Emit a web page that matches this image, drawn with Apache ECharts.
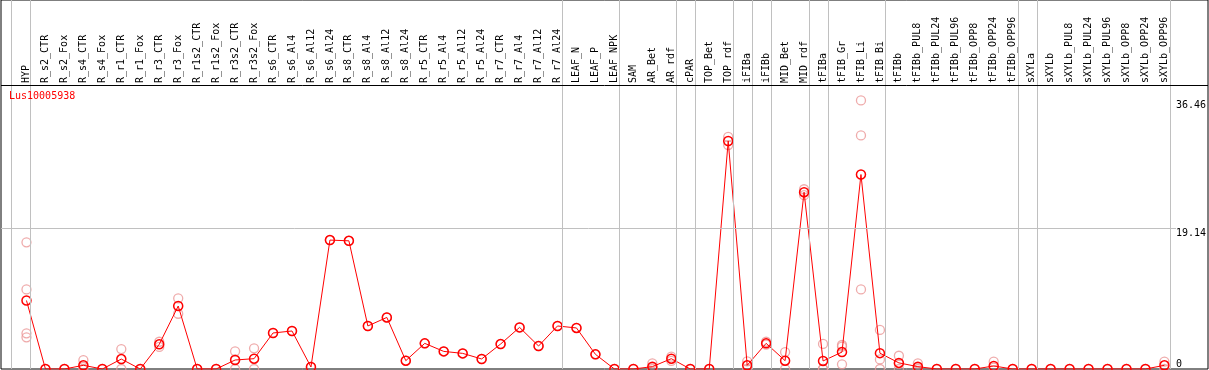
<!DOCTYPE html>
<html><head><meta charset="utf-8">
<script src="https://cdn.jsdelivr.net/npm/echarts@6/dist/echarts.min.js"></script>
<style>html,body{margin:0;padding:0;background:#fff}#c{width:1209px;height:370px}</style>
</head><body><div id="c"></div>
<script>
const chartTitle = 'Lus10005938';
const categories = ['HYP','R_s2_CTR','R_s2_Fox','R_s4_CTR','R_s4_Fox','R_r1_CTR','R_r1_Fox','R_r3_CTR','R_r3_Fox','R_r1s2_CTR','R_r1s2_Fox','R_r3s2_CTR','R_r3s2_Fox','R_s6_CTR','R_s6_Al4','R_s6_Al12','R_s6_Al24','R_s8_CTR','R_s8_Al4','R_s8_Al12','R_s8_Al24','R_r5_CTR','R_r5_Al4','R_r5_Al12','R_r5_Al24','R_r7_CTR','R_r7_Al4','R_r7_Al12','R_r7_Al24','LEAF_N','LEAF_P','LEAF_NPK','SAM','AR_Bet','AR_rdf','cPAR','TOP_Bet','TOP_rdf','iFIBa','iFIBb','MID_Bet','MID_rdf','tFIBa','tFIB_Gr','tFIB_Li','tFIB_Bi','tFIBb','tFIBb_PUL8','tFIBb_PUL24','tFIBb_PUL96','tFIBb_OPP8','tFIBb_OPP24','tFIBb_OPP96','sXYLa','sXYLb','sXYLb_PUL8','sXYLb_PUL24','sXYLb_PUL96','sXYLb_OPP8','sXYLb_OPP24','sXYLb_OPP96'];
const meanValues = [9.3,0,0,0.5,0,1.35,0,3.35,8.55,0,0,1.22,1.4,4.89,5.16,0.27,17.5,17.4,5.84,7.0,1.13,3.48,2.39,2.12,1.36,3.39,5.65,3.12,5.84,5.57,1.99,0,0,0.32,1.4,0,0,30.95,0.5,3.48,1.13,24.0,1.09,2.3,26.4,2.15,0.83,0.32,0,0,0,0.41,0,0,0,0,0,0,0,0,0.5];
const replicates = [[17.2,10.8,4.84,4.3],[0],[0],[1.2,0.3,0],[0],[2.7,0],[0],[3.7,3.0],[9.6,7.5],[0],[0],[2.4,1.3,0],[2.8,0],[4.89],[5.16],[0.27],[17.5],[17.4],[5.84],[7.0],[1.13],[3.48],[2.39],[2.12],[1.36],[3.39],[5.65],[3.12],[5.84],[5.57],[1.99],[0],[0],[0.77,0.2,0],[1.67,1.1],[0],[0],[31.5,30.4],[1.04,0],[3.7,3.3],[2.3,0],[24.4,23.6],[3.4,0,0],[3.26,3.03,0.63],[36.46,31.7,10.8],[5.3,1.3,0],[1.8,0.7,0],[0.77,0.2,0],[0],[0],[0],[1.0,0.2],[0],[0],[0],[0],[0],[0],[0],[0],[1.0,0]];
const yTickLabels = [0, 19.14, 36.46];
const gridLineValue = 19.14;
const groupEnds = [-1,0,28,31,34,35,37,38,39,41,42,45,52,53,60];

const W = 1209, H = 370;
const STEP = 19, X0 = 26.5, Y0 = 369, PPU = 141 / 19.14, HEADER = 85;
const x0min = (1 - X0) / STEP, x0max = (W - 1 - X0) / STEP;
const y0max = Y0 / PPU;
const y1max = (Y0 - HEADER) / PPU;
const g1left = X0 - STEP / 2;
const g1right = W - (g1left + categories.length * STEP);
const FONT = 'DejaVu Sans Mono';

const repData = [];
replicates.forEach((arr, i) => arr.forEach(v => repData.push([i, v])));

const option = {
  animation: false,
  backgroundColor: '#fff',
  title: {text: chartTitle, left: 9, top: 91, padding: 0,
    textStyle: {color: '#ff0000', fontSize: 10, fontWeight: 'normal', fontFamily: FONT}},
  grid: [
    {left: 1, right: 1, top: 0, bottom: H - Y0, show: true, borderColor: '#000', borderWidth: 1, backgroundColor: 'transparent'},
    {left: g1left, right: g1right, top: HEADER, bottom: H - Y0}
  ],
  xAxis: [
    {type: 'value', gridIndex: 0, min: x0min, max: x0max, show: false},
    {type: 'category', gridIndex: 1, position: 'top', data: categories, boundaryGap: true,
      axisLine: {show: false}, axisTick: {show: false}, splitLine: {show: false},
      axisLabel: {rotate: 90, interval: 0, margin: 2, color: '#000', fontSize: 10, fontFamily: FONT}}
  ],
  yAxis: [
    {type: 'value', gridIndex: 0, min: 0, max: y0max, show: false},
    {type: 'value', gridIndex: 1, position: 'right', min: 0, max: y1max,
      axisLine: {show: false}, axisTick: {show: false}, splitLine: {show: false},
      axisLabel: {customValues: yTickLabels.filter(v => v > 0), formatter: v => String(v),
        verticalAlign: 'top', margin: 2, color: '#000', fontSize: 10, fontFamily: FONT}},
    {type: 'value', gridIndex: 1, position: 'right', min: 0, max: y1max,
      axisLine: {show: false}, axisTick: {show: false}, splitLine: {show: false},
      axisLabel: {customValues: yTickLabels.filter(v => v === 0), formatter: v => String(v),
        verticalAlign: 'bottom', margin: 2, color: '#000', fontSize: 10, fontFamily: FONT}}
  ],
  series: [
    {type: 'line', xAxisIndex: 0, yAxisIndex: 0, data: [], silent: true, z: 1,
      markLine: {silent: true, symbol: 'none', label: {show: false},
        lineStyle: {color: '#c0c0c0', width: 1, type: 'solid'},
        data: groupEnds.map(e => ({xAxis: e + 0.21})).concat([
          [{coord: [x0min, gridLineValue]}, {coord: [(1176 - X0) / STEP, gridLineValue]}]
        ])}},
    {type: 'line', xAxisIndex: 0, yAxisIndex: 0, data: [], silent: true, z: 4,
      markLine: {silent: true, symbol: 'none', label: {show: false},
        lineStyle: {color: '#000', width: 1, type: 'solid'},
        data: [[{coord: [x0min, (Y0 - HEADER) / PPU]}, {coord: [x0max, (Y0 - HEADER) / PPU]}]]}},
    {type: 'scatter', xAxisIndex: 1, yAxisIndex: 1, data: repData, symbol: 'circle', symbolSize: 9, z: 2,
      itemStyle: {color: 'rgba(0,0,0,0)', borderColor: '#eb9696', borderWidth: 1.3}},
    {type: 'line', xAxisIndex: 1, yAxisIndex: 1, data: meanValues, symbol: 'circle', symbolSize: 9, z: 3,
      lineStyle: {color: '#ff0000', width: 1},
      itemStyle: {color: 'rgba(0,0,0,0)', borderColor: '#ff0000', borderWidth: 1.5}}
  ]
};
const chart = echarts.init(document.getElementById('c'), null, {renderer: 'canvas'});
chart.setOption(option);
</script>
</body></html>
